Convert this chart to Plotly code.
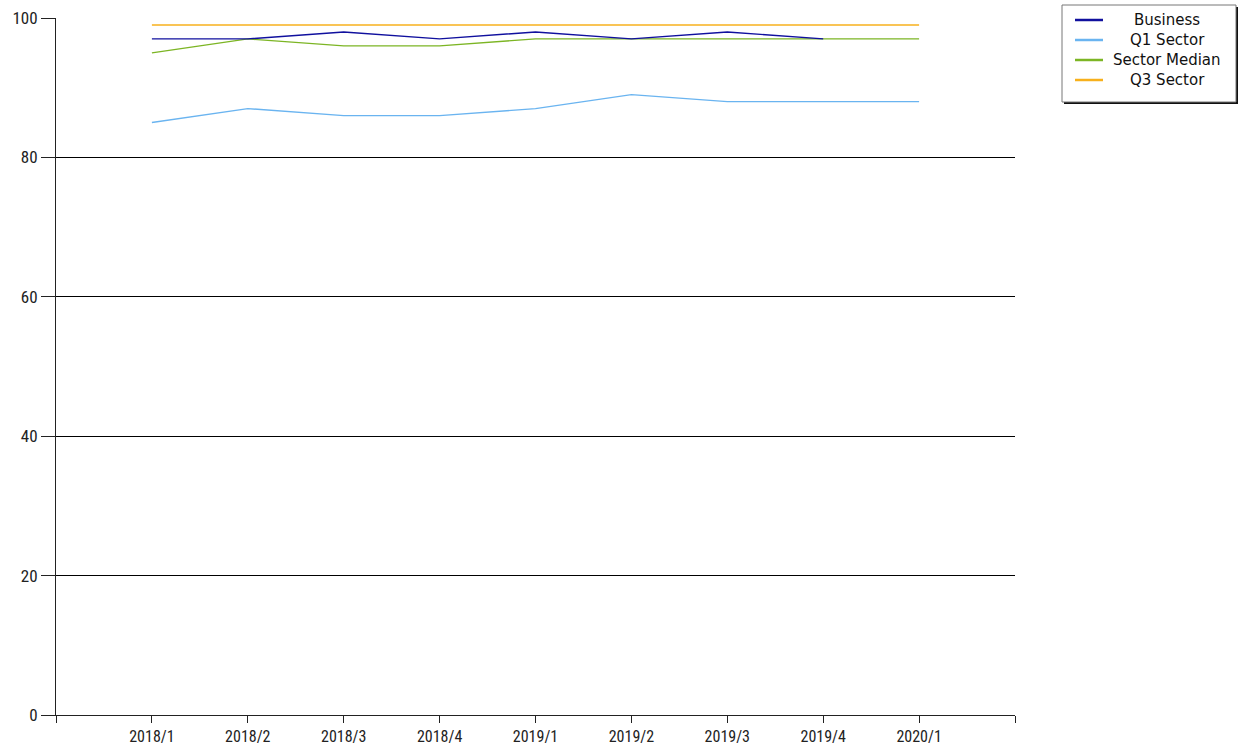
import plotly.graph_objects as go

# Quarterly periods on the x axis
quarters = ["2018/1", "2018/2", "2018/3", "2018/4", "2019/1",
            "2019/2", "2019/3", "2019/4", "2020/1"]

# Series values (percent)
business = [97, 97, 98, 97, 98, 97, 98, 97]
q1_sector = [85, 87, 86, 86, 87, 89, 88, 88, 88]
sector_median = [95, 97, 96, 96, 97, 97, 97, 97, 97]
q3_sector = [99, 99, 99, 99, 99, 99, 99, 99, 99]

series_names = ["Business", "Q1 Sector", "Sector Median", "Q3 Sector"]
series_values = [business, q1_sector, sector_median, q3_sector]
series_colors = ["#10109e", "#6ab4f0", "#7cb524", "#f7b01c"]

y_ticks = [0, 20, 40, 60, 80, 100]

W, H = 1239, 747
L, R, T, B = 56, 224, 18, 32
plot_w = W - L - R
plot_h = H - T - B

fig = go.Figure()

# Draw order: Q3 first so Business sits on top
for name, vals, color in reversed(list(zip(series_names, series_values, series_colors))):
    fig.add_trace(go.Scatter(
        x=list(range(len(vals))), y=vals, mode="lines", name=name,
        line=dict(color=color, width=1.4), showlegend=False,
        hovertemplate="%{text}: %{y}<extra>" + name + "</extra>",
        text=quarters[:len(vals)],
    ))

font_family = "Liberation Sans Narrow, Roboto Condensed, DejaVu Sans Condensed, sans-serif"

fig.update_xaxes(
    range=[-1, len(quarters)],
    tickmode="array",
    tickvals=list(range(-1, len(quarters) + 1)),
    ticktext=[""] + quarters + [""],
    ticks="outside", ticklen=7, tickcolor="#222", tickwidth=1,
    showline=True, linecolor="#222", linewidth=1,
    showgrid=False, zeroline=False, automargin=False,
    tickfont=dict(family=font_family, size=16, color="#222"),
)
fig.update_yaxes(
    range=[0, 100],
    tickmode="array", tickvals=y_ticks,
    ticks="outside", ticklen=14, tickcolor="#222", tickwidth=1,
    showline=True, linecolor="#222", linewidth=1,
    showgrid=True, gridcolor="#000", gridwidth=1,
    zeroline=False, automargin=False,
    tickfont=dict(family=font_family, size=17, color="#222"),
)

# Legend box drawn in pixel terms, converted to paper coordinates
def px_x(px):
    return (px - L) / plot_w

def px_y(py):
    return (H - B - py) / plot_h

shapes = []
annotations = []
bx0, bx1, by0, by1 = 1062, 1236, 5, 102
# shadow edges on right and bottom
shapes.append(dict(type="rect", xref="paper", yref="paper",
                   x0=px_x(bx0 + 2), x1=px_x(bx1 + 2), y0=px_y(by1 + 2), y1=px_y(by0 + 2),
                   line=dict(width=0), fillcolor="#111", layer="above"))
shapes.append(dict(type="rect", xref="paper", yref="paper",
                   x0=px_x(bx0), x1=px_x(bx1), y0=px_y(by1), y1=px_y(by0),
                   line=dict(color="#777", width=1), fillcolor="white", layer="above"))
for i, (name, color) in enumerate(zip(series_names, series_colors)):
    yy = 20 + i * 20
    shapes.append(dict(type="line", xref="paper", yref="paper",
                       x0=px_x(1075), x1=px_x(1103), y0=px_y(yy), y1=px_y(yy),
                       line=dict(color=color, width=2.5), layer="above"))
    annotations.append(dict(xref="paper", yref="paper", x=px_x(1167), y=px_y(yy),
                            text=name, showarrow=False, xanchor="center", yanchor="middle",
                            font=dict(family="DejaVu Sans, Verdana, sans-serif", size=15, color="#111")))

fig.update_layout(
    width=W, height=H,
    margin=dict(l=L, r=R, t=T, b=B, pad=0),
    paper_bgcolor="white", plot_bgcolor="white",
    showlegend=False,
    shapes=shapes, annotations=annotations,
)

fig.write_html("out.html")
